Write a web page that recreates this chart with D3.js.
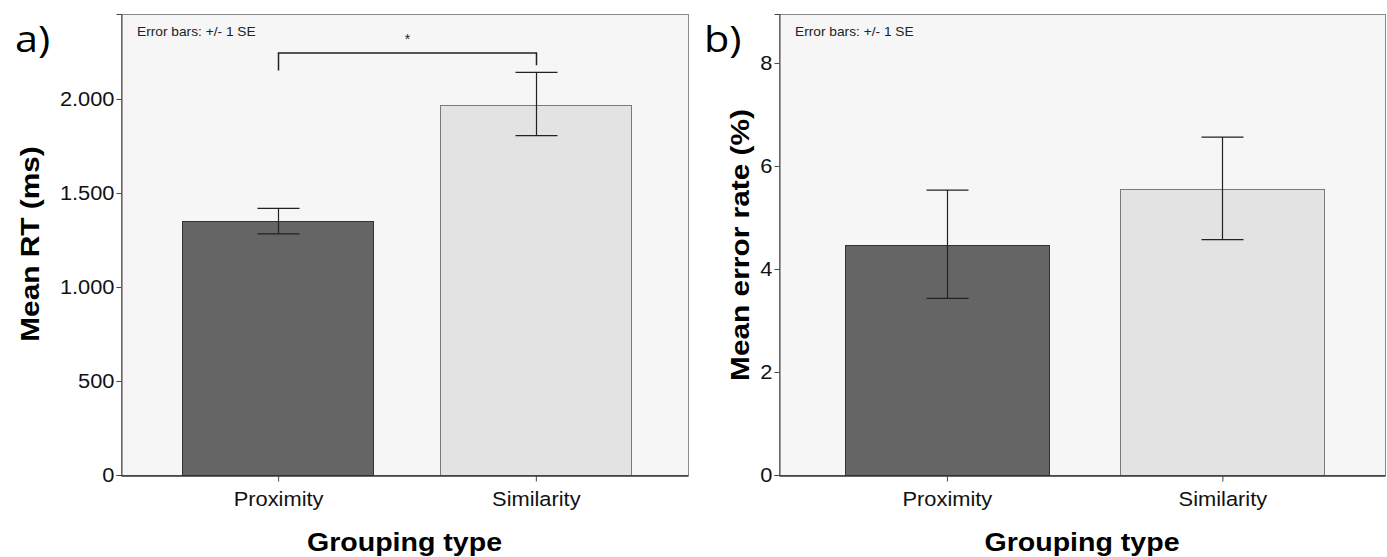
<!DOCTYPE html>
<meta charset="utf-8">
<style>
body { margin: 0; background: #fff; }
.frame { fill: #f6f6f6; stroke: #8a8a8a; stroke-width: 1px; }
.tick text { font: 19.5px "Liberation Sans", Arial, sans-serif; fill: #111; }
.axis-title { font: bold 25.5px "Liberation Sans", Arial, sans-serif; fill: #000; }
.note { font: 12.5px "Liberation Sans", Arial, sans-serif; fill: #222; }
.panel-tag { font: 36px "Open Sans", sans-serif; fill: #000; }
.err { stroke: #222; stroke-width: 1.2px; fill: none; }
</style>
<body>
<svg id="chart" width="1387" height="557"></svg>
<script src="https://d3js.org/d3.v7.min.js"></script>
<script>
// categories shared by both panels
var categories = ["Proximity", "Similarity"];

// panel a: mean reaction time (ms) with +/- 1 SE
var rtMean = [1350, 1970];
var rtLow = [1283, 1805];
var rtHigh = [1418, 2142];
var rtTicks = [0, 500, 1000, 1500, 2000];

// panel b: mean error rate (%) with +/- 1 SE
var errMean = [4.47, 5.55];
var errLow = [3.43, 4.57];
var errHigh = [5.53, 6.56];
var errTicks = [0, 2, 4, 6, 8];

var barFill = ["#656565", "#e3e3e3"];
var barStroke = ["#333", "#7a7a7a"];

var svg = d3.select("#chart");

// formats 1500 as "1.500" like the original
function dotThousands(v) {
  return d3.format(",")(v).replace(/,/g, ".");
}

// the original text is drawn wider than plain Arial, so widen it a bit
function stretch(sel, sx) {
  sel.each(function() {
    var t = d3.select(this);
    var x = +t.attr("x") || 0, y = +t.attr("y") || 0;
    t.attr("x", 0).attr("y", 0)
      .attr("transform", "translate(" + x + "," + y + ") scale(" + sx + ",1)");
  });
}

function drawPanel(opt) {
  var top = 14, bottom = 475;
  var y = d3.scaleLinear().domain([0, opt.max]).range([bottom, top]);
  var x = d3.scalePoint().domain(categories).range([opt.left, opt.right])
    .padding(0.6).align(0.508);
  var bw = x.step() * 0.742;

  var g = svg.append("g");

  g.append("rect").attr("class", "frame")
    .attr("x", opt.left + 0.5).attr("y", top + 0.5)
    .attr("width", opt.right - opt.left).attr("height", bottom - top);

  // bars
  g.selectAll(".bar").data(opt.mean).enter().append("rect")
    .attr("x", function(d, i) { return Math.round(x(categories[i]) - bw / 2) + 0.5; })
    .attr("y", function(d) { return Math.round(y(d)) + 0.5; })
    .attr("width", Math.round(bw))
    .attr("height", function(d) { return bottom - Math.round(y(d)); })
    .attr("fill", function(d, i) { return barFill[i]; })
    .attr("stroke", function(d, i) { return barStroke[i]; });

  // error bars
  var cap = 21;
  opt.mean.forEach(function(m, i) {
    var cx = Math.round(x(categories[i])) + 0.5;
    var y1 = y(opt.low[i]), y2 = y(opt.high[i]);
    g.append("path").attr("class", "err")
      .attr("d", "M" + cx + "," + y1 + "V" + y2 +
        "M" + (cx - cap) + "," + y2 + "H" + (cx + cap) +
        "M" + (cx - cap) + "," + y1 + "H" + (cx + cap));
  });

  // y axis
  g.append("g").attr("transform", "translate(" + (opt.left + 0.5) + ",0)")
    .call(d3.axisLeft(y).tickValues(opt.ticks).tickSize(5).tickPadding(2).tickFormat(opt.fmt))
    .call(function(a) {
      a.select(".domain").attr("stroke", "#444");
      a.selectAll(".tick line").attr("stroke", "#444");
      stretch(a.selectAll(".tick text"), 1.12);
    });

  // x axis
  g.append("g").attr("transform", "translate(0," + (bottom + 0.5) + ")")
    .call(d3.axisBottom(x).tickSize(6).tickPadding(11).tickSizeOuter(0))
    .call(function(a) {
      a.select(".domain").attr("stroke", "#333").attr("stroke-width", 1.5);
      a.selectAll(".tick line").attr("stroke", "#444");
      stretch(a.selectAll(".tick text"), 1.12);
    });

  // titles
  g.append("text").attr("class", "axis-title")
    .attr("text-anchor", "middle")
    .attr("transform", "translate(" + ((opt.left + opt.right) / 2) + ",551) scale(1.12,1)")
    .text("Grouping type");

  g.append("text").attr("class", "axis-title")
    .attr("text-anchor", "middle")
    .attr("transform", "translate(" + opt.titleX + "," + opt.titleY + ") rotate(-90) scale(1.17,1)")
    .text(opt.yTitle);

  g.append("text").attr("class", "note")
    .attr("transform", "translate(" + (opt.left + 16) + ",36) scale(1.1,1)")
    .text("Error bars:  +/- 1 SE");

  g.append("text").attr("class", "panel-tag")
    .attr("transform", "translate(" + opt.tagX + ",52) scale(1.15,1)")
    .text(opt.tag);

  return { x: x, y: y, g: g };
}

var a = drawPanel({
  left: 121, right: 688, max: 2452,
  mean: rtMean, low: rtLow, high: rtHigh, ticks: rtTicks,
  fmt: dotThousands, yTitle: "Mean RT (ms)", titleX: 39, titleY: 244,
  tag: "a)", tagX: 15
});

drawPanel({
  left: 779, right: 1385, max: 8.95,
  mean: errMean, low: errLow, high: errHigh, ticks: errTicks,
  fmt: d3.format("d"), yTitle: "Mean error rate (%)", titleX: 749, titleY: 245,
  tag: "b)", tagX: 704
});

// significance bracket in panel a
var bx1 = Math.round(a.x("Proximity")) + 0.5, bx2 = Math.round(a.x("Similarity")) + 0.5;
var bTop = a.y(2245);
a.g.append("path")
  .attr("fill", "none").attr("stroke", "#222").attr("stroke-width", 1.5)
  .attr("d", "M" + bx1 + "," + a.y(2152) + "V" + bTop + "H" + bx2 + "V" + a.y(2180));
a.g.append("text").attr("class", "note")
  .attr("text-anchor", "middle")
  .attr("x", (bx1 + bx2) / 2).attr("y", 44)
  .style("font-size", "14px")
  .text("*");
</script>
</body>
